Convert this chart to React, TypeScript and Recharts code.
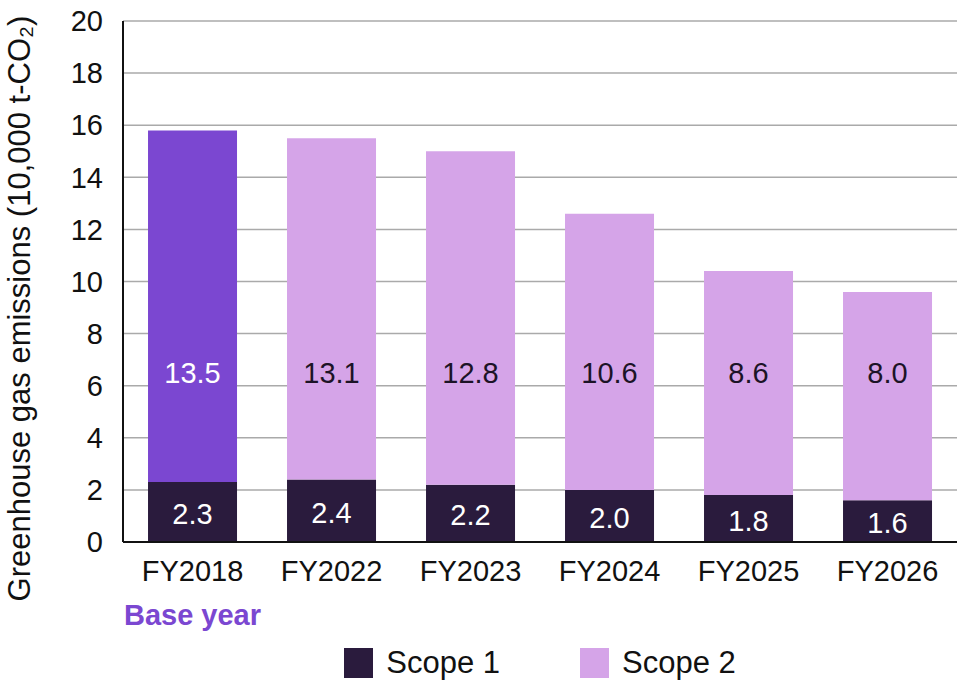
import { BarChart, Bar, XAxis, YAxis, CartesianGrid, Legend, LabelList, Cell } from "recharts";

const categories = ["FY2018", "FY2022", "FY2023", "FY2024", "FY2025", "FY2026"];
const scope1 = [2.3, 2.4, 2.2, 2.0, 1.8, 1.6];
const scope2 = [13.5, 13.1, 12.8, 10.6, 8.6, 8.0];
const yTicks = [0, 2, 4, 6, 8, 10, 12, 14, 16, 18, 20];

// scope 2 labels all sit at the same height on the axis
const SCOPE2_LABEL_LEVEL = 6.5;

const SCOPE1_COLOR = "#2a1b3d";
const SCOPE2_COLOR = "#d5a4e8";
const BASE_COLOR = "#7b47d1";
const FONT = "'Liberation Sans', Arial, sans-serif";

const data = categories.map((year, i) => ({ year, scope1: scope1[i], scope2: scope2[i] }));

function Scope1Label(props: any) {
  const { x, y, width, height, value } = props;
  return (
    <text x={x + width / 2} y={y + height / 2 + 2} textAnchor="middle" dominantBaseline="central" fill="#fff" fontSize={29}>
      {Number(value).toFixed(1)}
    </text>
  );
}

function Scope2Label(props: any) {
  const { x, y, width, height, value, index } = props;
  const perUnit = height / value;
  const bottom = y + height;
  const cy = bottom - (SCOPE2_LABEL_LEVEL - scope1[index]) * perUnit;
  return (
    <text x={x + width / 2} y={cy} textAnchor="middle" dominantBaseline="central" fill={index === 0 ? "#fff" : "#1c1326"} fontSize={29}>
      {Number(value).toFixed(1)}
    </text>
  );
}

function YearTick(props: any) {
  const { x, y, payload, index } = props;
  return (
    <g>
      <text x={x} y={y + 21} textAnchor="middle" dominantBaseline="central" fill="#111" fontSize={29}>
        {payload.value}
      </text>
      {index === 0 && (
        <text x={x} y={y + 65} textAnchor="middle" dominantBaseline="central" fill={BASE_COLOR} fontSize={29} fontWeight={700}>
          Base year
        </text>
      )}
    </g>
  );
}

function YTitle(props: any) {
  const { viewBox } = props;
  const cx = 19;
  const cy = viewBox.y + viewBox.height / 2 + 27;
  return (
    <text x={cx} y={cy} transform={`rotate(-90, ${cx}, ${cy})`} textAnchor="middle" dominantBaseline="central" fill="#111" fontSize={31}>
      Greenhouse gas emissions (10,000 t-CO₂)
    </text>
  );
}

function LegendContent() {
  const items = [
    { name: "Scope 1", color: SCOPE1_COLOR },
    { name: "Scope 2", color: SCOPE2_COLOR },
  ];
  return (
    <div style={{ display: "flex", justifyContent: "center", alignItems: "center", gap: 80, height: 40, fontFamily: FONT }}>
      {items.map((it) => (
        <div key={it.name} style={{ display: "flex", alignItems: "center", gap: 13 }}>
          <span style={{ display: "inline-block", width: 29, height: 30, background: it.color }} />
          <span style={{ fontSize: 31, color: "#111" }}>{it.name}</span>
        </div>
      ))}
    </div>
  );
}

export default function App() {
  return (
    <div style={{ position: "absolute", left: 0, top: 0, width: 960, height: 680, background: "#fff", fontFamily: FONT }}>
      <BarChart width={960} height={680} data={data} margin={{ top: 21, right: 3, left: 0, bottom: 18 }} barCategoryGap="18%">
        <CartesianGrid vertical={false} stroke="#aaaaaa" strokeWidth={1.5} />
        <XAxis
          dataKey="year"
          height={80}
          axisLine={{ stroke: "#111", strokeWidth: 2 }}
          tickLine={false}
          tick={<YearTick />}
          interval={0}
        />
        <YAxis
          type="number"
          domain={[0, 20]}
          ticks={yTicks}
          width={123}
          axisLine={{ stroke: "#111", strokeWidth: 2 }}
          tickLine={false}
          tickMargin={14}
          tick={{ fill: "#111", fontSize: 29 }}
          label={<YTitle />}
        />
        <Legend
          verticalAlign="bottom"
          content={<LegendContent />}
          wrapperStyle={{ left: 123, width: 834, top: 643, height: 40 }}
        />
        <Bar dataKey="scope1" name="Scope 1" stackId="a" fill={SCOPE1_COLOR} isAnimationActive={false}>
          <LabelList dataKey="scope1" content={<Scope1Label />} />
        </Bar>
        <Bar dataKey="scope2" name="Scope 2" stackId="a" fill={SCOPE2_COLOR} isAnimationActive={false}>
          {data.map((d, i) => (
            <Cell key={d.year} fill={i === 0 ? BASE_COLOR : SCOPE2_COLOR} />
          ))}
          <LabelList dataKey="scope2" content={<Scope2Label />} />
        </Bar>
      </BarChart>
    </div>
  );
}
